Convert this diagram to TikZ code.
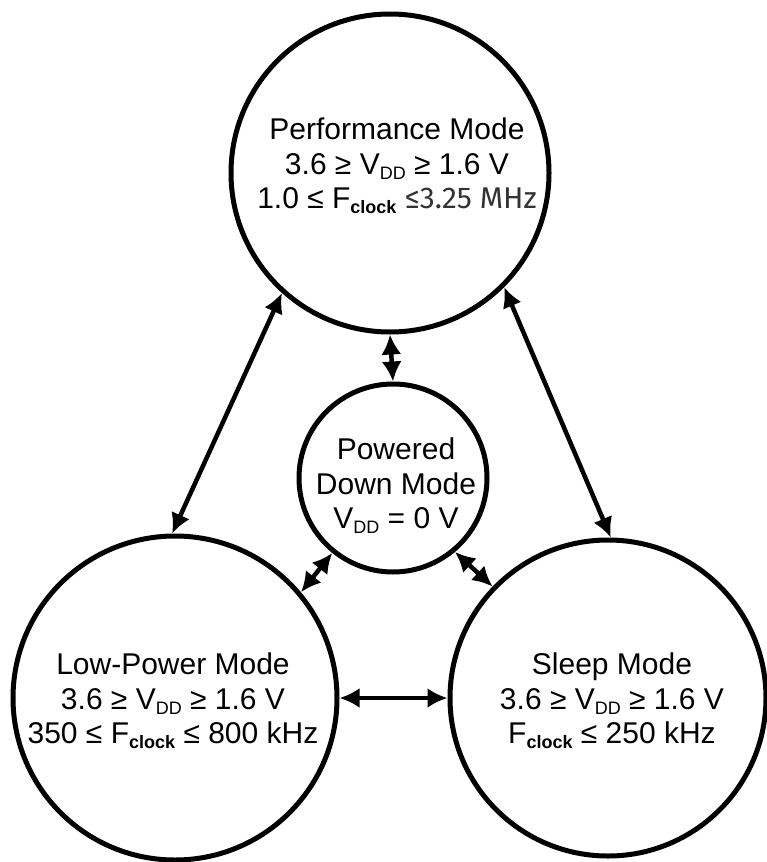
\documentclass[tikz,border=0pt]{standalone}
\usepackage{fontspec}
\setmainfont{Liberation Sans}
\newfontfamily\altfont{Fira Sans}
\usetikzlibrary{arrows.meta}
\newcommand\subdd{\raisebox{-0.3ex}{\fontsize{18}{18}\selectfont DD}}
\newcommand\subclk{\raisebox{-0.3ex}{\fontsize{18}{18}\selectfont\bfseries clock}}
\tikzset{
  mode/.style={circle, draw=black, line width=5pt, inner sep=0pt},
  lbl/.style={align=center, inner sep=0pt, font=\fontsize{30}{34.5}\selectfont, text=black},
  tip/.tip={Latex[length=20pt,width=20pt]},
  link/.style={line width=4.5pt, tip-tip}
}
\begin{document}
\begin{tikzpicture}[x=1pt,y=-1pt]
\useasboundingbox[fill=white] (0,0) rectangle (766,862);
\node[mode, minimum size=318pt] (perf) at (390,173) {};
\node[mode, minimum size=188pt] (pd) at (393,478) {};
\node[mode, minimum size=324pt] (low) at (175,698) {};
\node[mode, minimum size=316pt] (sleep) at (608,698) {};
\node[lbl] (perft) at (397,166) {Performance Mode\\3.6 ≥ V\subdd{} ≥ 1.6 V\\1.0 ≤ F\subclk{} {\altfont\color{black!80}≤3.25 MHz}};
\node[lbl] (pdt) at (396,486) {Powered\\Down Mode\\V\subdd{} = 0 V};
\node[lbl] (lowt) at (173,701) {Low-Power Mode\\3.6 ≥ V\subdd{} ≥ 1.6 V\\350 ≤ F\subclk{} ≤ 800 kHz};
\node[lbl] (sleept) at (612,701) {Sleep Mode\\3.6 ≥ V\subdd{} ≥ 1.6 V\\F\subclk{} ≤ 250 kHz};
\draw[link] (perf.228) -- (low.91);
\draw[link] (perf.315) -- (sleep.89);
\draw[link] (perf.south) -- (pd.north);
\draw[link] (pd.231) -- (low.40);
\draw[link] (pd.310) -- (sleep.136);
\draw[link] (low.0) -- (sleep.180);
\end{tikzpicture}
\end{document}
